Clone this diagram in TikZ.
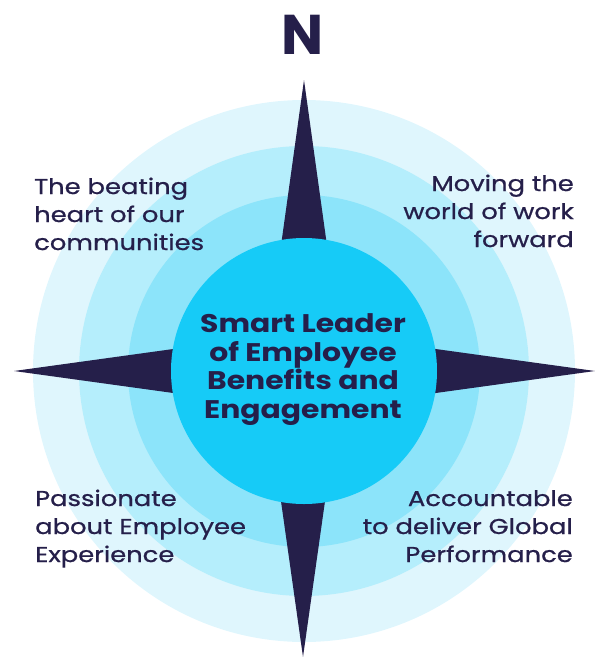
\documentclass[tikz,border=0pt]{standalone}
\usepackage{fontspec}
\setmainfont{Poppins}
\newfontfamily\cornerfont[FakeStretch=1.2,FakeBold=0.8]{Poppins}
\newfontfamily\centerfont[FakeStretch=1.17]{Poppins Bold}
\definecolor{navy}{HTML}{251F4A}
\definecolor{ring1}{HTML}{DFF6FD}
\definecolor{ring2}{HTML}{B5EEFC}
\definecolor{ring3}{HTML}{8CE4FA}
\definecolor{core}{HTML}{16CBF7}
\tikzset{
  corner/.style={text=navy, font=\cornerfont\fontsize{21.5}{28}\selectfont, inner sep=0pt},
  centertext/.style={text=navy, font=\centerfont\fontsize{25.5}{28.5}\selectfont, align=center, inner sep=0pt},
  needle/.style={fill=navy, draw=none}
}
\begin{document}
\begin{tikzpicture}[x=1pt,y=-1pt]
\useasboundingbox (0,0) rectangle (595,657);
\coordinate (c) at (304,371);
\fill[ring1] (c) circle[radius=271pt];
\fill[ring2] (c) circle[radius=225pt];
\fill[ring3] (c) circle[radius=176pt];
% needles
\fill[needle] (304,80) -- (329,260) -- (279,260) -- cycle;
\fill[needle] (303,657) -- (328,480) -- (278,480) -- cycle;
\fill[needle] (14,371) -- (195,346) -- (195,396) -- cycle;
\fill[needle] (595,371) -- (414,346) -- (414,396) -- cycle;
\fill[core] (c) circle[radius=133pt];
\node[text=navy, font=\fontsize{56}{56}\selectfont\bfseries, inner sep=0pt, anchor=base] (n) at (303,54) {N};
\node[centertext, anchor=base] (mid) at (303,418) {Smart Leader\\of Employee\\Benefits and\\Engagement};
\node[corner, align=left, anchor=base west] (tl) at (34,250) {The beating\\heart of our\\communities};
\node[corner, align=right, anchor=base east] (tr) at (574,247) {Moving the\\world of work\\forward};
\node[corner, align=left, anchor=base west] (bl) at (35,562) {Passionate\\about Employee\\Experience};
\node[corner, align=right, anchor=base east] (br) at (573,562) {Accountable\\to deliver Global\\Performance};
\end{tikzpicture}
\end{document}
